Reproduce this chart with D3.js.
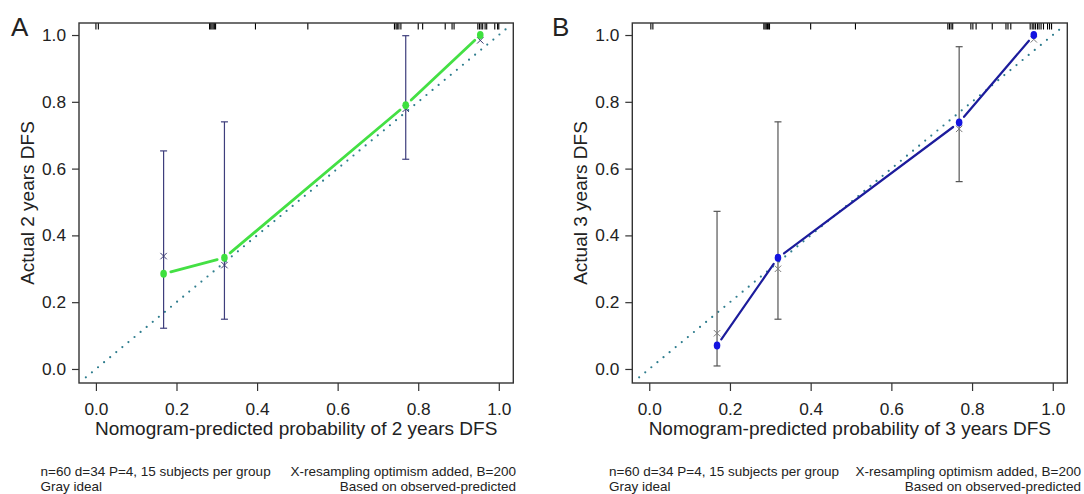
<!DOCTYPE html>
<html><head><meta charset="utf-8">
<script src="https://cdn.jsdelivr.net/npm/d3@7"></script>
<style>
body{margin:0;background:#fff}
svg{display:block}
text{font-family:"Liberation Sans",Arial,Helvetica,sans-serif;fill:#222}
</style>
</head><body>
<svg id="chart" width="1084" height="494"></svg>
<script>
// ---- data ----
const xTicks = [0, 0.2, 0.4, 0.6, 0.8, 1.0];
const yTicks = [0, 0.2, 0.4, 0.6, 0.8, 1.0];
const domain = [-0.042, 1.036];

const predA = [0.168, 0.319, 0.769, 0.954];
const obsA  = [0.285, 0.333, 0.790, 1.000];
const lowA  = [0.122, 0.149, 0.628, null];
const highA = [0.653, 0.740, 0.998, null];
const corrA = [0.338, 0.311, 0.779, 0.984];

const predB = [0.168, 0.319, 0.768, 0.953];
const obsB  = [0.070, 0.333, 0.738, 1.000];
const lowB  = [0.009, 0.149, 0.561, null];
const highB = [0.472, 0.740, 0.965, null];
const corrB = [0.107, 0.300, 0.719, 0.987];

const rugA = [0.000, 0.006, 0.282, 0.285, 0.288, 0.291, 0.294, 0.297, 0.396, 0.526,
  0.741, 0.745, 0.748, 0.752, 0.757, 0.800, 0.811, 0.867, 0.884, 0.889,
  0.948, 0.952, 0.956, 0.960, 0.966, 0.970, 0.990, 0.997, 1.000];
const rugB = [0.004, 0.009, 0.284, 0.287, 0.290, 0.293, 0.296, 0.298, 0.400, 0.511,
  0.740, 0.744, 0.748, 0.752, 0.797, 0.802, 0.810, 0.850, 0.884, 0.889, 0.896,
  0.944, 0.949, 0.953, 0.957, 0.962, 0.966, 0.971, 0.977, 0.987, 0.992, 0.997];

const idealRange = [-0.025, 1.03];
const footLeft  = ["n=60 d=34 P=4, 15 subjects per group", "Gray ideal"];
const footRight = ["X-resampling optimism added, B=200", "Based on observed-predicted"];

const panels = [
  {label:"A", xTitle:"Nomogram-predicted probability of 2 years DFS", yTitle:"Actual 2 years DFS",
   pred:predA, obs:obsA, low:lowA, high:highA, corr:corrA, rug:rugA,
   box:{l:79, r:513.3, t:23, b:383}, labelX:11, footL:40.6, footR:516,
   lineColor:"#44e044", lineW:2.8, ptColor:"#3ee03e", barColor:"#3e3e7c", xColor:"#3a3a70"},
  {label:"B", xTitle:"Nomogram-predicted probability of 3 years DFS", yTitle:"Actual 3 years DFS",
   pred:predB, obs:obsB, low:lowB, high:highB, corr:corrB, rug:rugB,
   box:{l:632.3, r:1067.3, t:23, b:383}, labelX:552, footL:609, footR:1081,
   lineColor:"#1c1c9c", lineW:2.2, ptColor:"#1414e0", barColor:"#555555", xColor:"#7a7a7a"}
];

const svg = d3.select("#chart");
const fmt = d3.format(".1f");

panels.forEach(p => {
  const B = p.box;
  const x = d3.scaleLinear().domain(domain).range([B.l, B.r]);
  const y = d3.scaleLinear().domain(domain).range([B.b, B.t]);
  const g = svg.append("g");

  // axes
  const xa = g.append("g").attr("transform", `translate(0,${B.b})`)
    .call(d3.axisBottom(x).tickValues(xTicks).tickFormat(fmt).tickSize(8).tickPadding(12));
  const ya = g.append("g").attr("transform", `translate(${B.l},0)`)
    .call(d3.axisLeft(y).tickValues(yTicks).tickFormat(fmt).tickSize(7).tickPadding(6));
  [xa, ya].forEach(a => {
    a.select(".domain").remove();
    a.selectAll("line").attr("stroke", "#333").attr("stroke-width", 1.2);
    a.selectAll("text").attr("font-size", "17.3px").attr("fill", "#222")
      .style("font-family", '"Liberation Sans",Arial,sans-serif');
  });

  // ideal line (dotted)
  g.append("line")
    .attr("x1", x(idealRange[0])).attr("y1", y(idealRange[0]))
    .attr("x2", x(idealRange[1])).attr("y2", y(idealRange[1]))
    .attr("stroke", "#2f7d8e").attr("stroke-width", 2.2)
    .attr("stroke-linecap", "round").attr("stroke-dasharray", "0 7.9");

  // rug
  g.selectAll(".rug").data(p.rug).join("line")
    .attr("x1", d => x(d)).attr("x2", d => x(d))
    .attr("y1", B.t).attr("y2", B.t + 6.5)
    .attr("stroke", "#000").attr("stroke-width", 1.1);

  // error bars
  const bars = p.pred.map((d,i) => ({x:d, lo:p.low[i], hi:p.high[i]})).filter(d => d.lo !== null);
  const eb = g.selectAll(".eb").data(bars).join("g").attr("stroke", p.barColor).attr("stroke-width", 1.2);
  eb.append("line").attr("x1", d => x(d.x)).attr("x2", d => x(d.x)).attr("y1", d => y(d.lo)).attr("y2", d => y(d.hi));
  eb.append("line").attr("x1", d => x(d.x) - 3.5).attr("x2", d => x(d.x) + 3.5).attr("y1", d => y(d.lo)).attr("y2", d => y(d.lo));
  eb.append("line").attr("x1", d => x(d.x) - 3.5).attr("x2", d => x(d.x) + 3.5).attr("y1", d => y(d.hi)).attr("y2", d => y(d.hi));

  // connecting segments with gaps (type="b")
  const pts = p.pred.map((d,i) => [x(d), y(p.obs[i])]);
  const gap = 7.5;
  for (let i = 0; i < pts.length - 1; i++) {
    const [x1,y1] = pts[i], [x2,y2] = pts[i+1];
    const L = Math.hypot(x2-x1, y2-y1), ux = (x2-x1)/L, uy = (y2-y1)/L;
    g.append("line")
      .attr("x1", x1 + ux*gap).attr("y1", y1 + uy*gap)
      .attr("x2", x2 - ux*gap).attr("y2", y2 - uy*gap)
      .attr("stroke", p.lineColor).attr("stroke-width", p.lineW).attr("stroke-linecap", "round");
  }

  // corrected X marks
  g.selectAll(".xm").data(p.pred.map((d,i) => [d, p.corr[i]])).join("path")
    .attr("d", d => { const cx = x(d[0]), cy = y(d[1]);
      return `M${cx-3.2},${cy-3.2}L${cx+3.2},${cy+3.2}M${cx-3.2},${cy+3.2}L${cx+3.2},${cy-3.2}`; })
    .attr("stroke", p.xColor).attr("stroke-width", 1).attr("fill", "none");

  // observed points
  g.selectAll(".pt").data(p.pred.map((d,i) => [d, p.obs[i]])).join("ellipse")
    .attr("cx", d => x(d[0])).attr("cy", d => y(d[1]))
    .attr("rx", 3.3).attr("ry", 4).attr("fill", p.ptColor);

  // frame
  g.append("rect").attr("x", B.l).attr("y", B.t).attr("width", B.r - B.l).attr("height", B.b - B.t)
    .attr("fill", "none").attr("stroke", "#333").attr("stroke-width", 1.4);

  // titles
  g.append("text").attr("x", (B.l + B.r)/2).attr("y", 435).attr("text-anchor", "middle")
    .attr("font-size", "19px").text(p.xTitle);
  g.append("text").attr("transform", `translate(${B.l - 45.5},${(B.t + B.b)/2}) rotate(-90)`)
    .attr("text-anchor", "middle").attr("font-size", "19px").text(p.yTitle);
  g.append("text").attr("x", p.labelX).attr("y", 35.5).attr("font-size", "26px").text(p.label);

  // footnotes
  footLeft.forEach((t,i) => g.append("text").attr("x", p.footL).attr("y", 476 + i*15)
    .attr("font-size", "13.5px").text(t));
  footRight.forEach((t,i) => g.append("text").attr("x", p.footR).attr("y", 476 + i*15)
    .attr("text-anchor", "end").attr("font-size", "13.5px").text(t));
});
</script>
</body></html>
